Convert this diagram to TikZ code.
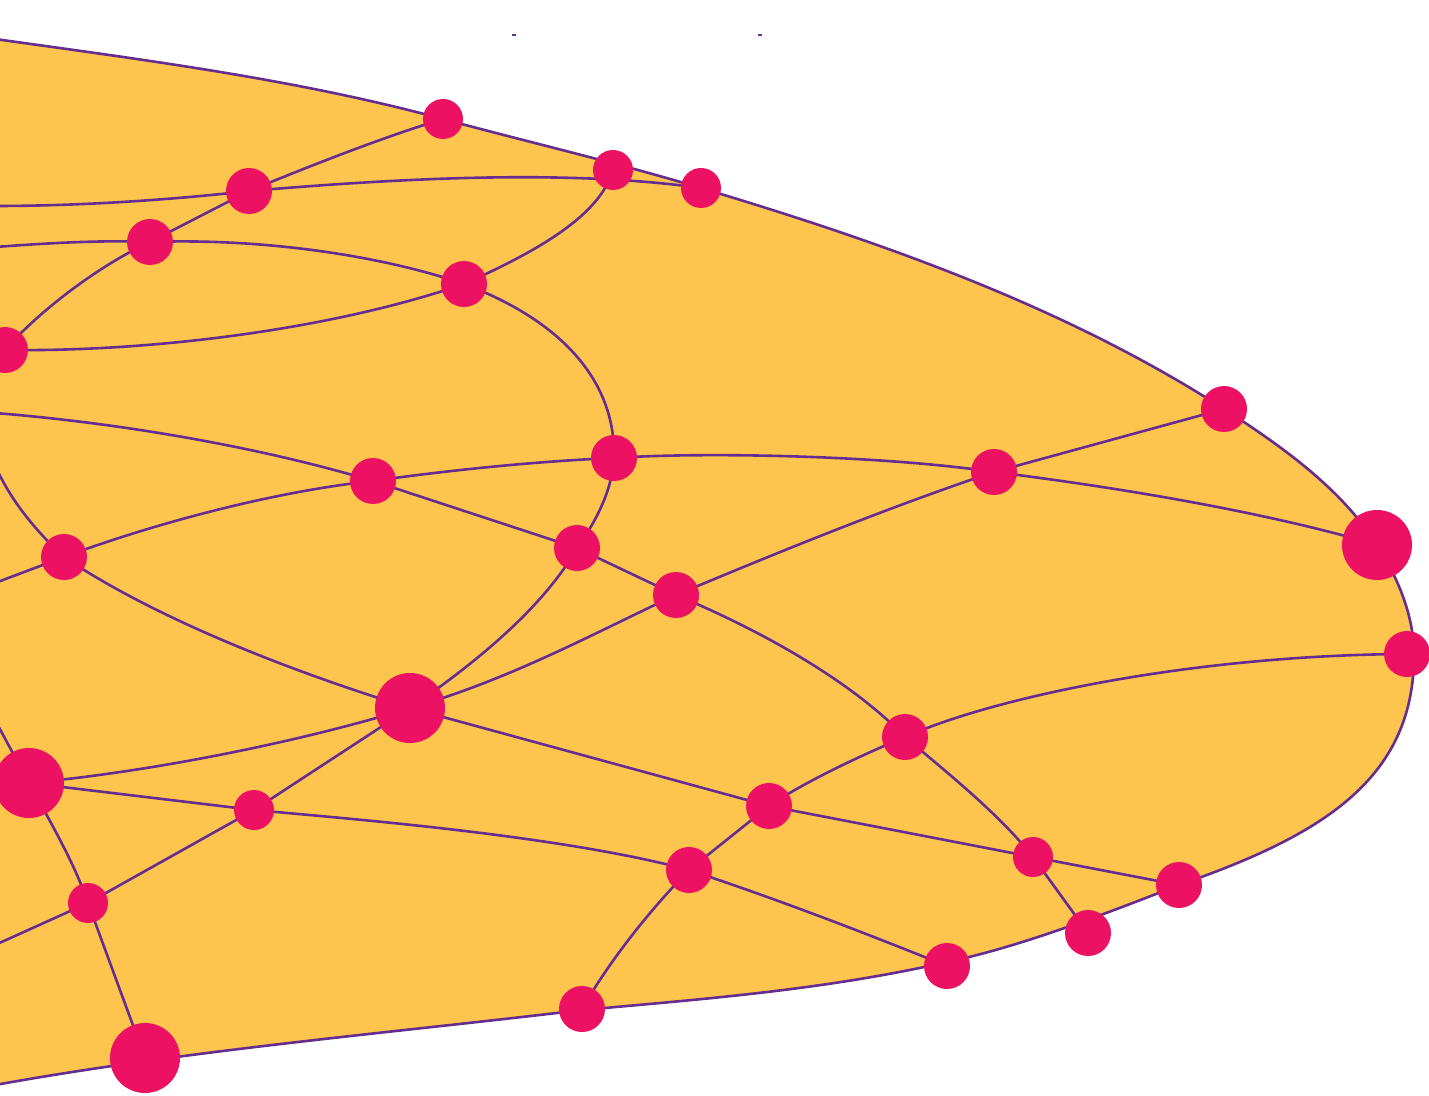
\documentclass[tikz,border=0pt]{standalone}
\usetikzlibrary{backgrounds}
\definecolor{blobfill}{HTML}{FEC54E}
\definecolor{edgepurple}{HTML}{662D91}
\definecolor{dotpink}{HTML}{ED1164}
\begin{document}
\begin{tikzpicture}[x=0.5pt,y=-0.5pt,
  dotS/.style={circle,fill=dotpink,inner sep=0pt,minimum size=20pt},
  dotM/.style={circle,fill=dotpink,inner sep=0pt,minimum size=23pt},
  dotL/.style={circle,fill=dotpink,inner sep=0pt,minimum size=35pt},
  link/.style={draw=edgepurple,line width=1.3pt},
  blob/.style={fill=blobfill,draw=edgepurple,line width=1.3pt}]
\useasboundingbox (0,0) rectangle (1429,1096);
% nodes
\node[dotS] (n1) at (443,119) {};
\node[dotS] (n2) at (613,170) {};
\node[dotS] (n3) at (701,188) {};
\node[dotM] (n4) at (249,191) {};
\node[dotM] (n5) at (150,242) {};
\node[dotM] (n6) at (464,284) {};
\node[dotM] (n7) at (5,350) {};
\node[dotM] (n8) at (614,458) {};
\node[dotM] (n9) at (373,481) {};
\node[dotM] (n10) at (64,557) {};
\node[dotM] (n11) at (577,548) {};
\node[dotM] (n12) at (676,595) {};
\node[dotM] (n13) at (994,472) {};
\node[dotM] (n14) at (1224,409) {};
\node[dotL] (n15) at (1377,545) {};
\node[dotM] (n16) at (1407,654) {};
\node[dotL] (n17) at (410,708) {};
\node[dotL] (n18) at (29,783) {};
\node[dotS] (n19) at (254,810) {};
\node[dotS] (n20) at (88,903) {};
\node[dotL] (n21) at (145,1058) {};
\node[dotM] (n22) at (905,737) {};
\node[dotM] (n23) at (769,806) {};
\node[dotM] (n24) at (689,870) {};
\node[dotS] (n25) at (1033,857) {};
\node[dotM] (n26) at (1179,885) {};
\node[dotM] (n27) at (1088,933) {};
\node[dotM] (n28) at (947,966) {};
\node[dotM] (n29) at (582,1009) {};
% free ends at the left border
\coordinate (l1) at (-5,206);
\coordinate (l2) at (-5,247);
\coordinate (l3) at (-5,413);
\coordinate (l4) at (-5,583);
\coordinate (l5) at (-6,463);
\coordinate (l6) at (-5,720);
\coordinate (l7) at (-5,945);
\begin{scope}[on background layer]
\path[blob] (-5,39)
  .. controls (145.5,60.1) and (296.3,79.3) .. (443,119)
  .. controls (528.9,142.2) and (615.7,162.5) .. (701,188)
  .. controls (882,242.3) and (1065.2,306.6) .. (1224,409)
  .. controls (1281.1,445.9) and (1340.5,487.7) .. (1377,545)
  .. controls (1398,577.9) and (1414,616) .. (1414,655)
  .. controls (1414,780) and (1320.6,835.8) .. (1179,885)
  .. controls (1085,922) and (1010,949) .. (947,962)
  .. controls (827,989.5) and (704.5,999) .. (582,1010)
  .. controls (386.4,1033.4) and (189,1050) .. (-5,1085)
  -- (-30,1090) -- (-30,35) -- cycle;
% tiny marks at the top
\draw[edgepurple,line width=1pt] (512,35) -- (516,35);
\draw[edgepurple,line width=1pt] (758,35) -- (762,35);
% connectors
\draw[link] (l1) .. controls (80,206) and (170,200) .. (n4.center);
\draw[link] (n4.center) .. controls (380,180) and (560,168) .. (n3.center);
\draw[link] (n4.center) .. controls (300,170) and (380,138) .. (n1.center);
\draw[link] (n5.center) -- (n4.center);
\draw[link] (n7.center) .. controls (40,310) and (100,265) .. (n5.center);
\draw[link] (l2) .. controls (50,243) and (100,240) .. (n5.center);
\draw[link] (n5.center) .. controls (260,238) and (380,255) .. (n6.center);
\draw[link] (n7.center) .. controls (150,352) and (330,330) .. (n6.center);
\draw[link] (n6.center) .. controls (540,250) and (600,215) .. (n2.center);
\draw[link] (n6.center) .. controls (560,320) and (616,380) .. (n8.center);
\draw[link] (l3) .. controls (120,423) and (260,447) .. (n9.center);
\draw[link] (n9.center) .. controls (450,470) and (540,461) .. (n8.center);
\draw[link] (n8.center) .. controls (700,452) and (880,455) .. (n13.center);
\draw[link] (n13.center) -- (n14.center);
\draw[link] (n13.center) .. controls (1100,485) and (1260,510) .. (n15.center);
\draw[link] (n12.center) .. controls (760,560) and (880,510) .. (n13.center);
\draw[link] (n9.center) -- (n11.center);
\draw[link] (n11.center) -- (n12.center);
\draw[link] (n8.center) .. controls (612,490) and (597,520) .. (n11.center);
\draw[link] (n11.center) .. controls (545,605) and (480,660) .. (n17.center);
\draw[link] (n12.center) .. controls (600,630) and (510,680) .. (n17.center);
\draw[link] (n10.center) .. controls (150,525) and (270,492) .. (n9.center);
\draw[link] (l4) -- (n10.center);
\draw[link] (l5) .. controls (10,500) and (35,530) .. (n10.center);
\draw[link] (n10.center) .. controls (150,615) and (280,668) .. (n17.center);
\draw[link] (l6) -- (n18.center);
\draw[link] (n18.center) .. controls (150,772) and (300,742) .. (n17.center);
\draw[link] (n18.center) -- (n19.center);
\draw[link] (n17.center) -- (n19.center);
\draw[link] (n19.center) .. controls (340,818) and (560,835) .. (n24.center);
\draw[link] (n18.center) .. controls (55,830) and (75,865) .. (n20.center);
\draw[link] (n19.center) -- (n20.center);
\draw[link] (l7) -- (n20.center);
\draw[link] (n20.center) -- (n21.center);
\draw[link] (n17.center) -- (n23.center);
\draw[link] (n12.center) .. controls (760,630) and (850,680) .. (n22.center);
\draw[link] (n22.center) .. controls (1000,695) and (1200,655) .. (n16.center);
\draw[link] (n22.center) .. controls (850,760) and (800,785) .. (n23.center);
\draw[link] (n22.center) .. controls (950,775) and (1000,815) .. (n25.center);
\draw[link] (n23.center) -- (n25.center);
\draw[link] (n25.center) -- (n26.center);
\draw[link] (n25.center) -- (n27.center);
\draw[link] (n23.center) -- (n24.center);
\draw[link] (n24.center) .. controls (780,900) and (870,935) .. (n28.center);
\draw[link] (n24.center) .. controls (650,910) and (610,960) .. (n29.center);
\end{scope}
\end{tikzpicture}
\end{document}
